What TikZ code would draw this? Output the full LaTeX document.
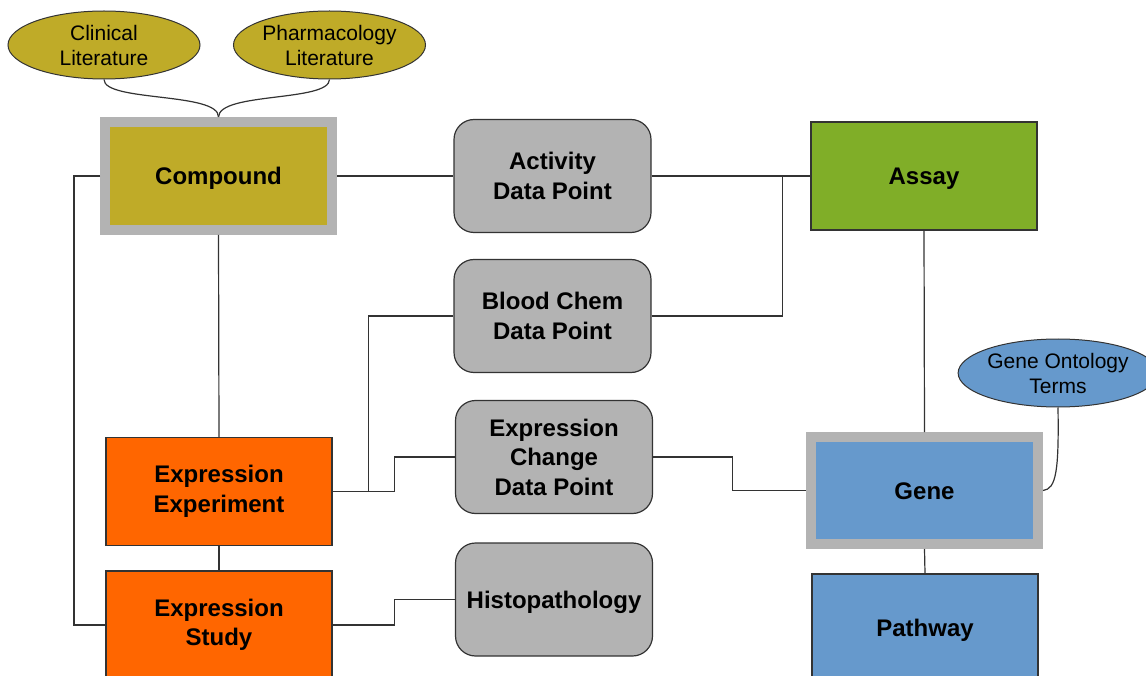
\documentclass[tikz,border=0pt]{standalone}
\usepackage{fontspec}
\setmainfont{Liberation Sans}
\usetikzlibrary{shapes.geometric}
\definecolor{cOlive}{HTML}{BFAB28}
\definecolor{cGreen}{HTML}{80AE28}
\definecolor{cOrange}{HTML}{FF6600}
\definecolor{cBlue}{HTML}{6699CC}
\definecolor{cGray}{HTML}{B3B3B3}
\definecolor{cBorder}{HTML}{B3B3B3}
\definecolor{cLine}{HTML}{333333}
\begin{document}
\begin{tikzpicture}[x=1pt,y=-1pt,
  boxnode/.style={rectangle, draw=cLine, line width=1.2pt, minimum width=226pt, minimum height=108pt,
    inner sep=0pt, align=center, text=black, font=\bfseries\fontsize{24}{29.5}\selectfont},
  oneline/.style={text height=17.5pt, text depth=0pt},
  dpnode/.style={boxnode, rounded corners=20pt, fill=cGray, minimum width=197pt, minimum height=113pt},
  bignode/.style={boxnode, draw=cBorder, line width=10pt, minimum width=227pt, minimum height=108pt},
  litnode/.style={ellipse, draw=cLine, line width=1pt, minimum width=192pt, minimum height=68pt,
    inner sep=0pt, align=center, text=black, font=\fontsize{21}{25}\selectfont},
  wire/.style={draw=cLine, line width=1.2pt}]
\useasboundingbox (0,0) rectangle (1146,676);
\clip (0,0) rectangle (1146,676);

% nodes
\node[litnode, fill=cOlive] (clin) at (104,45) {Clinical\\Literature};
\node[litnode, fill=cOlive] (pharm) at (329.5,45) {Pharmacology\\Literature};
\node[litnode, fill=cBlue, minimum width=190pt] (gotn) at (1058,373) {Gene Ontology\\Terms};

\node[bignode, oneline, fill=cOlive] (comp) at (218.5,176) {Compound};
\node[bignode, oneline, fill=cBlue, minimum height=107pt] (gene) at (924.5,490.5) {Gene};

\node[dpnode] (act) at (552.5,176) {Activity\\Data Point};
\node[dpnode] (blood) at (552.5,316) {Blood Chem\\Data Point};
\node[dpnode] (exch) at (554,457) {Expression\\Change\\Data Point};
\node[dpnode, oneline] (histo) at (554,599.5) {Histopathology};

\node[boxnode, oneline, fill=cGreen] (assay) at (924,176) {Assay};
\node[boxnode, fill=cOrange] (expexp) at (219,491.5) {Expression\\Experiment};
\node[boxnode, fill=cOrange] (expst) at (219,625) {Expression\\Study};
\node[boxnode, oneline, fill=cBlue] (path) at (925,628) {Pathway};

% connectors
\draw[wire] (clin.south) .. controls (104,102) and (219,92) .. (comp.north);
\draw[wire] (pharm.south) .. controls (329,102) and (219,92) .. (comp.north);
\draw[wire] (gotn.south) .. controls (1059,472) and (1056,489) .. (gene.east);

\draw[wire] (comp.west) -- ++(-26,0) |- (expst.west);
\draw[wire] (comp.south) -- (expexp.north);
\draw[wire] (comp.east) -- (act.west);
\draw[wire] (act.east) -- (assay.west);
\draw[wire] (blood.east) -- ++(131,0) |- (assay.west);
\draw[wire] (blood.west) -- ++(-85,0) |- (expexp.east);
\draw[wire] (expexp.east) -- ++(62,0) |- (exch.west);
\draw[wire] (exch.east) -- ++(79,0) |- (gene.west);
\draw[wire] (assay.south) -- (gene.north);
\draw[wire] (gene.south) -- (path.north);
\draw[wire] (expexp.south) -- (expst.north);
\draw[wire] (expst.east) -- ++(62,0) |- (histo.west);
\end{tikzpicture}
\end{document}
